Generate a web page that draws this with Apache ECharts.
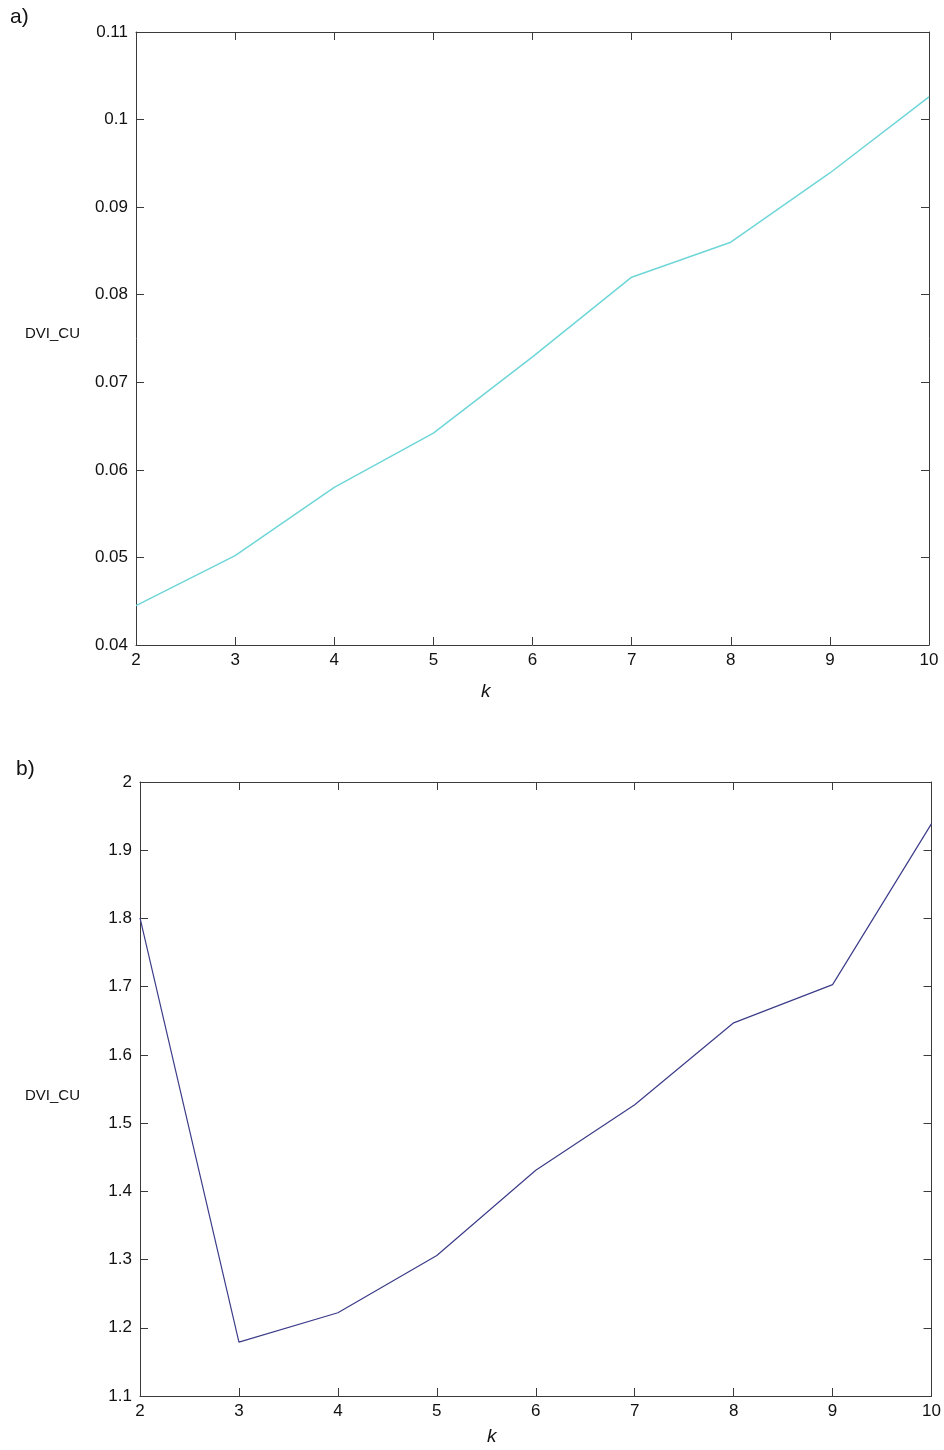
<!DOCTYPE html>
<html>
<head>
<meta charset="utf-8">
<script src="https://cdn.jsdelivr.net/npm/echarts@6/dist/echarts.min.js"></script>
<style>html,body{margin:0;padding:0;background:#fff}#c{width:944px;height:1450px}</style>
</head>
<body>
<div id="c"></div>
<script>
const kValues = [2, 3, 4, 5, 6, 7, 8, 9, 10];
const dviA = [0.0445, 0.0502, 0.0580, 0.0642, 0.0729, 0.0820, 0.0860, 0.0939, 0.1026];
const dviB = [1.801, 1.179, 1.222, 1.306, 1.431, 1.527, 1.647, 1.703, 1.939];
const panelLabels = ['a)', 'b)'];
const yName = 'DVI_CU';
const xName = 'k';

const FONT = 'Liberation Sans, Arial, sans-serif';
const axisCol = '#3a3a3a';
const fmt = v => String(+(+v).toFixed(4));

function xAxes(gi) {
  return [
    { gridIndex: gi, type: 'value', min: 2, max: 10, interval: 1, position: 'bottom',
      axisLine: { show: true, lineStyle: { color: axisCol, width: 1 } },
      axisTick: { show: true, inside: true, length: 8, lineStyle: { color: axisCol } },
      axisLabel: { fontFamily: FONT, fontSize: 17, color: '#111', margin: 7, formatter: fmt },
      splitLine: { show: false } },
    { gridIndex: gi, type: 'value', min: 2, max: 10, interval: 1, position: 'top',
      axisLine: { show: true, lineStyle: { color: axisCol, width: 1 } },
      axisTick: { show: true, inside: true, length: 8, lineStyle: { color: axisCol } },
      axisLabel: { show: false }, splitLine: { show: false } }
  ];
}
function yAxes(gi, min, max, interval) {
  return [
    { gridIndex: gi, type: 'value', min, max, interval, position: 'left',
      axisLine: { show: true, lineStyle: { color: axisCol, width: 1 } },
      axisTick: { show: true, inside: true, length: 8, lineStyle: { color: axisCol } },
      axisLabel: { fontFamily: FONT, fontSize: 17, color: '#111', margin: 8, formatter: fmt },
      splitLine: { show: false } },
    { gridIndex: gi, type: 'value', min, max, interval, position: 'right',
      axisLine: { show: true, lineStyle: { color: axisCol, width: 1 } },
      axisTick: { show: true, inside: true, length: 8, lineStyle: { color: axisCol } },
      axisLabel: { show: false }, splitLine: { show: false } }
  ];
}

const chart = echarts.init(document.getElementById('c'));
chart.setOption({
  animation: false,
  backgroundColor: '#fff',
  grid: [
    { left: 136, right: 15, top: 32, height: 613 },
    { left: 140, right: 11, top: 782, height: 614 }
  ],
  xAxis: [...xAxes(0), ...xAxes(1)],
  yAxis: [...yAxes(0, 0.04, 0.11, 0.01), ...yAxes(1, 1.1, 2.0, 0.1)],
  graphic: [
    { type: 'text', left: 10, top: 7, style: { text: panelLabels[0], font: '21px ' + FONT, fill: '#111' } },
    { type: 'text', left: 16, top: 759, style: { text: panelLabels[1], font: '21px ' + FONT, fill: '#111' } },
    { type: 'text', left: 25, top: 326, style: { text: yName, font: '15px ' + FONT, fill: '#111' } },
    { type: 'text', left: 25, top: 1088, style: { text: yName, font: '15px ' + FONT, fill: '#111' } },
    { type: 'text', left: 481, top: 682, style: { text: xName, font: 'italic 19px ' + FONT, fill: '#111' } },
    { type: 'text', left: 487, top: 1427, style: { text: xName, font: 'italic 19px ' + FONT, fill: '#111' } }
  ],
  series: [
    { type: 'line', xAxisIndex: 0, yAxisIndex: 0, data: kValues.map((k, i) => [k, dviA[i]]),
      showSymbol: false, lineStyle: { color: '#6fd6d8', width: 1.5 } },
    { type: 'line', xAxisIndex: 2, yAxisIndex: 2, data: kValues.map((k, i) => [k, dviB[i]]),
      showSymbol: false, lineStyle: { color: '#3c3c8a', width: 1.2 } }
  ]
});
</script>
</body>
</html>
